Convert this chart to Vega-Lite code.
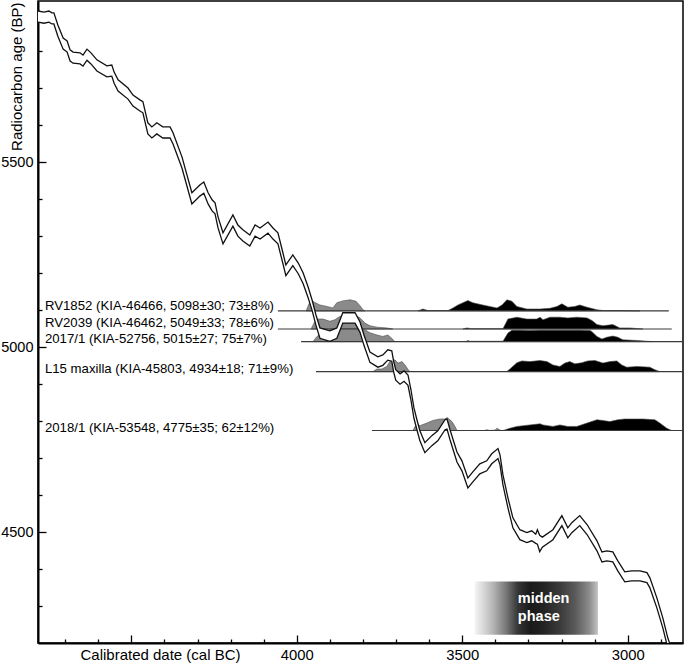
{
  "$schema": "https://vega.github.io/schema/vega-lite/v6.json",
  "width": 645,
  "height": 642,
  "autosize": {"type": "none"},
  "padding": {"left": 38, "top": 1, "right": 2, "bottom": 21},
  "background": "white",
  "config": {
    "view": {"stroke": "black", "strokeWidth": 1.5},
    "font": "Liberation Sans"
  },
  "datasets": {
    "curve": [
      {"cal":4782,"up":5908,"lo":5878},{"cal":4764,"up":5905,"lo":5875},{"cal":4749,"up":5908,"lo":5878},{"cal":4740,"up":5903,"lo":5873},{"cal":4734,"up":5903,"lo":5873},
      {"cal":4722,"up":5870,"lo":5840},{"cal":4706,"up":5835,"lo":5805},{"cal":4694,"up":5827,"lo":5797},{"cal":4685,"up":5803,"lo":5773},{"cal":4676,"up":5797,"lo":5767},
      {"cal":4655,"up":5795,"lo":5765},{"cal":4646,"up":5789,"lo":5759},{"cal":4634,"up":5805,"lo":5775},{"cal":4622,"up":5795,"lo":5765},{"cal":4604,"up":5776,"lo":5746},
      {"cal":4574,"up":5760,"lo":5730},{"cal":4559,"up":5762,"lo":5732},{"cal":4552,"up":5743,"lo":5713},{"cal":4540,"up":5722,"lo":5692},{"cal":4510,"up":5700,"lo":5670},
      {"cal":4495,"up":5681,"lo":5651},{"cal":4474,"up":5668,"lo":5638},{"cal":4465,"up":5663,"lo":5633},{"cal":4450,"up":5606,"lo":5576},{"cal":4438,"up":5595,"lo":5565},
      {"cal":4423,"up":5606,"lo":5576},{"cal":4405,"up":5595,"lo":5565},{"cal":4383,"up":5595,"lo":5565},{"cal":4374,"up":5579,"lo":5549},{"cal":4347,"up":5514,"lo":5484},
      {"cal":4317,"up":5417,"lo":5387},{"cal":4293,"up":5438,"lo":5408},{"cal":4281,"up":5446,"lo":5416},{"cal":4268,"up":5417,"lo":5387},{"cal":4256,"up":5398,"lo":5368},
      {"cal":4247,"up":5390,"lo":5360},{"cal":4238,"up":5352,"lo":5322},{"cal":4223,"up":5309,"lo":5279},{"cal":4193,"up":5357,"lo":5327},{"cal":4178,"up":5330,"lo":5300},
      {"cal":4163,"up":5317,"lo":5287},{"cal":4142,"up":5303,"lo":5273},{"cal":4126,"up":5330,"lo":5300},{"cal":4111,"up":5322,"lo":5292},{"cal":4087,"up":5338,"lo":5308},
      {"cal":4072,"up":5322,"lo":5292},{"cal":4057,"up":5309,"lo":5279},{"cal":4042,"up":5255,"lo":5226},{"cal":4033,"up":5222,"lo":5193},{"cal":4012,"up":5249,"lo":5220},
      {"cal":3996,"up":5228,"lo":5199},{"cal":3981,"up":5201,"lo":5172},{"cal":3966,"up":5163,"lo":5134},{"cal":3954,"up":5128,"lo":5100},{"cal":3942,"up":5087,"lo":5059},
      {"cal":3930,"up":5052,"lo":5024},{"cal":3900,"up":5044,"lo":5016},{"cal":3879,"up":5052,"lo":5024},{"cal":3861,"up":5093,"lo":5065},{"cal":3824,"up":5093,"lo":5065},
      {"cal":3809,"up":5068,"lo":5040},{"cal":3797,"up":5033,"lo":5005},{"cal":3779,"up":4987,"lo":4959},{"cal":3755,"up":4974,"lo":4946},{"cal":3740,"up":4979,"lo":4951},
      {"cal":3725,"up":4993,"lo":4965},{"cal":3713,"up":4990,"lo":4962},{"cal":3707,"up":4960,"lo":4932},{"cal":3701,"up":4939,"lo":4911},{"cal":3688,"up":4928,"lo":4900},
      {"cal":3676,"up":4936,"lo":4908},{"cal":3664,"up":4925,"lo":4897},{"cal":3655,"up":4885,"lo":4857},{"cal":3646,"up":4836,"lo":4808},{"cal":3637,"up":4804,"lo":4777},
      {"cal":3628,"up":4774,"lo":4747},{"cal":3613,"up":4742,"lo":4715},{"cal":3592,"up":4761,"lo":4734},{"cal":3574,"up":4774,"lo":4747},{"cal":3552,"up":4804,"lo":4777},
      {"cal":3546,"up":4806,"lo":4779},{"cal":3537,"up":4777,"lo":4750},{"cal":3516,"up":4717,"lo":4690},{"cal":3501,"up":4693,"lo":4666},{"cal":3483,"up":4647,"lo":4620},
      {"cal":3468,"up":4663,"lo":4636},{"cal":3447,"up":4685,"lo":4658},{"cal":3426,"up":4693,"lo":4666},{"cal":3411,"up":4712,"lo":4685},{"cal":3392,"up":4726,"lo":4699},
      {"cal":3386,"up":4709,"lo":4682},{"cal":3377,"up":4655,"lo":4628},{"cal":3362,"up":4593,"lo":4566},{"cal":3347,"up":4539,"lo":4512},{"cal":3326,"up":4507,"lo":4480},
      {"cal":3305,"up":4499,"lo":4472},{"cal":3290,"up":4504,"lo":4477},{"cal":3278,"up":4495,"lo":4470},{"cal":3273,"up":4507,"lo":4468},{"cal":3266,"up":4492,"lo":4448},
      {"cal":3258,"up":4487,"lo":4460},{"cal":3226,"up":4507,"lo":4480},{"cal":3199,"up":4545,"lo":4518},{"cal":3181,"up":4512,"lo":4485},{"cal":3169,"up":4526,"lo":4499},
      {"cal":3145,"up":4545,"lo":4518},{"cal":3123,"up":4521,"lo":4494},{"cal":3093,"up":4477,"lo":4450},{"cal":3078,"up":4447,"lo":4420},{"cal":3063,"up":4450,"lo":4423},
      {"cal":3045,"up":4447,"lo":4420},{"cal":3030,"up":4423,"lo":4396},{"cal":3009,"up":4393,"lo":4366},{"cal":2988,"up":4396,"lo":4369},{"cal":2963,"up":4396,"lo":4369},
      {"cal":2942,"up":4391,"lo":4364},{"cal":2933,"up":4377,"lo":4350},{"cal":2912,"up":4323,"lo":4296},{"cal":2894,"up":4269,"lo":4242},{"cal":2879,"up":4215,"lo":4188},
      {"cal":2867,"up":4183,"lo":4156}
    ],
    "dist": [
      {"g":"Ag","p":"g","cal":3972,"top":5098,"base":5098},{"g":"Ag","p":"g","cal":3963,"top":5117,"base":5098},{"g":"Ag","p":"g","cal":3957,"top":5128,"base":5098},{"g":"Ag","p":"g","cal":3948,"top":5122,"base":5098},{"g":"Ag","p":"g","cal":3930,"top":5114,"base":5098},{"g":"Ag","p":"g","cal":3909,"top":5110,"base":5098},{"g":"Ag","p":"g","cal":3891,"top":5106,"base":5098},{"g":"Ag","p":"g","cal":3879,"top":5120,"base":5098},{"g":"Ag","p":"g","cal":3861,"top":5125,"base":5098},{"g":"Ag","p":"g","cal":3839,"top":5128,"base":5098},{"g":"Ag","p":"g","cal":3821,"top":5124,"base":5098},{"g":"Ag","p":"g","cal":3809,"top":5112,"base":5098},{"g":"Ag","p":"g","cal":3800,"top":5101,"base":5098},{"g":"Ag","p":"g","cal":3794,"top":5098,"base":5098},
      {"g":"Ab","p":"b","cal":3634,"top":5098,"base":5098},{"g":"Ab","p":"b","cal":3619,"top":5103,"base":5098},{"g":"Ab","p":"b","cal":3604,"top":5099,"base":5098},{"g":"Ab","p":"b","cal":3543,"top":5099,"base":5098},{"g":"Ab","p":"b","cal":3528,"top":5106,"base":5098},{"g":"Ab","p":"b","cal":3513,"top":5114,"base":5098},{"g":"Ab","p":"b","cal":3498,"top":5120,"base":5098},{"g":"Ab","p":"b","cal":3483,"top":5126,"base":5098},{"g":"Ab","p":"b","cal":3468,"top":5120,"base":5098},{"g":"Ab","p":"b","cal":3438,"top":5114,"base":5098},{"g":"Ab","p":"b","cal":3417,"top":5110,"base":5098},{"g":"Ab","p":"b","cal":3395,"top":5106,"base":5098},{"g":"Ab","p":"b","cal":3380,"top":5114,"base":5098},{"g":"Ab","p":"b","cal":3365,"top":5128,"base":5098},{"g":"Ab","p":"b","cal":3350,"top":5124,"base":5098},{"g":"Ab","p":"b","cal":3335,"top":5110,"base":5098},{"g":"Ab","p":"b","cal":3305,"top":5103,"base":5098},{"g":"Ab","p":"b","cal":3265,"top":5103,"base":5098},{"g":"Ab","p":"b","cal":3235,"top":5105,"base":5098},{"g":"Ab","p":"b","cal":3214,"top":5110,"base":5098},{"g":"Ab","p":"b","cal":3199,"top":5117,"base":5098},{"g":"Ab","p":"b","cal":3181,"top":5108,"base":5098},{"g":"Ab","p":"b","cal":3160,"top":5110,"base":5098},{"g":"Ab","p":"b","cal":3145,"top":5114,"base":5098},{"g":"Ab","p":"b","cal":3123,"top":5108,"base":5098},{"g":"Ab","p":"b","cal":3093,"top":5101,"base":5098},{"g":"Ab","p":"b","cal":3075,"top":5099,"base":5098},{"g":"Ab","p":"b","cal":3024,"top":5099,"base":5098},{"g":"Ab","p":"b","cal":2963,"top":5098,"base":5098},
      {"g":"Bg","p":"g","cal":3957,"top":5049,"base":5049},{"g":"Bg","p":"g","cal":3945,"top":5070,"base":5049},{"g":"Bg","p":"g","cal":3936,"top":5076,"base":5049},{"g":"Bg","p":"g","cal":3921,"top":5076,"base":5049},{"g":"Bg","p":"g","cal":3900,"top":5070,"base":5049},{"g":"Bg","p":"g","cal":3885,"top":5074,"base":5049},{"g":"Bg","p":"g","cal":3870,"top":5083,"base":5049},{"g":"Bg","p":"g","cal":3855,"top":5087,"base":5049},{"g":"Bg","p":"g","cal":3839,"top":5089,"base":5049},{"g":"Bg","p":"g","cal":3824,"top":5087,"base":5049},{"g":"Bg","p":"g","cal":3809,"top":5079,"base":5049},{"g":"Bg","p":"g","cal":3794,"top":5065,"base":5049},{"g":"Bg","p":"g","cal":3779,"top":5058,"base":5049},{"g":"Bg","p":"g","cal":3758,"top":5054,"base":5049},{"g":"Bg","p":"g","cal":3728,"top":5052,"base":5049},{"g":"Bg","p":"g","cal":3710,"top":5049,"base":5049},
      {"g":"Bb","p":"b","cal":3498,"top":5049,"base":5049},{"g":"Bb","p":"b","cal":3486,"top":5052,"base":5049},{"g":"Bb","p":"b","cal":3474,"top":5050,"base":5049},{"g":"Bb","p":"b","cal":3390,"top":5050,"base":5049},{"g":"Bb","p":"b","cal":3377,"top":5050,"base":5049},{"g":"Bb","p":"b","cal":3362,"top":5076,"base":5049},{"g":"Bb","p":"b","cal":3335,"top":5081,"base":5049},{"g":"Bb","p":"b","cal":3305,"top":5076,"base":5049},{"g":"Bb","p":"b","cal":3275,"top":5076,"base":5049},{"g":"Bb","p":"b","cal":3265,"top":5081,"base":5049},{"g":"Bb","p":"b","cal":3256,"top":5074,"base":5049},{"g":"Bb","p":"b","cal":3235,"top":5081,"base":5049},{"g":"Bb","p":"b","cal":3205,"top":5081,"base":5049},{"g":"Bb","p":"b","cal":3181,"top":5079,"base":5049},{"g":"Bb","p":"b","cal":3154,"top":5081,"base":5049},{"g":"Bb","p":"b","cal":3123,"top":5079,"base":5049},{"g":"Bb","p":"b","cal":3108,"top":5072,"base":5049},{"g":"Bb","p":"b","cal":3093,"top":5061,"base":5049},{"g":"Bb","p":"b","cal":3075,"top":5058,"base":5049},{"g":"Bb","p":"b","cal":3045,"top":5061,"base":5049},{"g":"Bb","p":"b","cal":3024,"top":5052,"base":5049},{"g":"Bb","p":"b","cal":2994,"top":5052,"base":5049},{"g":"Bb","p":"b","cal":2954,"top":5049,"base":5049},
      {"g":"Cg","p":"g","cal":3951,"top":5015,"base":5015},{"g":"Cg","p":"g","cal":3939,"top":5029,"base":5015},{"g":"Cg","p":"g","cal":3924,"top":5038,"base":5015},{"g":"Cg","p":"g","cal":3909,"top":5042,"base":5015},{"g":"Cg","p":"g","cal":3900,"top":5047,"base":5015},{"g":"Cg","p":"g","cal":3885,"top":5049,"base":5015},{"g":"Cg","p":"g","cal":3855,"top":5050,"base":5015},{"g":"Cg","p":"g","cal":3824,"top":5050,"base":5015},{"g":"Cg","p":"g","cal":3794,"top":5047,"base":5015},{"g":"Cg","p":"g","cal":3779,"top":5039,"base":5015},{"g":"Cg","p":"g","cal":3758,"top":5033,"base":5015},{"g":"Cg","p":"g","cal":3740,"top":5029,"base":5015},{"g":"Cg","p":"g","cal":3725,"top":5033,"base":5015},{"g":"Cg","p":"g","cal":3713,"top":5024,"base":5015},{"g":"Cg","p":"g","cal":3704,"top":5015,"base":5015},
      {"g":"Cb","p":"b","cal":3489,"top":5015,"base":5015},{"g":"Cb","p":"b","cal":3483,"top":5018,"base":5015},{"g":"Cb","p":"b","cal":3477,"top":5016,"base":5015},{"g":"Cb","p":"b","cal":3377,"top":5016,"base":5015},{"g":"Cb","p":"b","cal":3362,"top":5038,"base":5015},{"g":"Cb","p":"b","cal":3350,"top":5046,"base":5015},{"g":"Cb","p":"b","cal":3326,"top":5046,"base":5015},{"g":"Cb","p":"b","cal":3296,"top":5045,"base":5015},{"g":"Cb","p":"b","cal":3265,"top":5046,"base":5015},{"g":"Cb","p":"b","cal":3205,"top":5046,"base":5015},{"g":"Cb","p":"b","cal":3145,"top":5046,"base":5015},{"g":"Cb","p":"b","cal":3114,"top":5045,"base":5015},{"g":"Cb","p":"b","cal":3108,"top":5042,"base":5015},{"g":"Cb","p":"b","cal":3093,"top":5029,"base":5015},{"g":"Cb","p":"b","cal":3078,"top":5022,"base":5015},{"g":"Cb","p":"b","cal":3063,"top":5027,"base":5015},{"g":"Cb","p":"b","cal":3045,"top":5030,"base":5015},{"g":"Cb","p":"b","cal":3030,"top":5027,"base":5015},{"g":"Cb","p":"b","cal":3015,"top":5020,"base":5015},{"g":"Cb","p":"b","cal":2972,"top":5018,"base":5015},{"g":"Cb","p":"b","cal":2924,"top":5015,"base":5015},
      {"g":"Dg","p":"g","cal":3770,"top":4934,"base":4934},{"g":"Dg","p":"g","cal":3758,"top":4941,"base":4934},{"g":"Dg","p":"g","cal":3743,"top":4941,"base":4934},{"g":"Dg","p":"g","cal":3728,"top":4948,"base":4934},{"g":"Dg","p":"g","cal":3719,"top":4961,"base":4934},{"g":"Dg","p":"g","cal":3704,"top":4966,"base":4934},{"g":"Dg","p":"g","cal":3694,"top":4957,"base":4934},{"g":"Dg","p":"g","cal":3682,"top":4961,"base":4934},{"g":"Dg","p":"g","cal":3673,"top":4952,"base":4934},{"g":"Dg","p":"g","cal":3664,"top":4940,"base":4934},{"g":"Dg","p":"g","cal":3658,"top":4934,"base":4934},
      {"g":"Db","p":"b","cal":3365,"top":4934,"base":4934},{"g":"Db","p":"b","cal":3350,"top":4946,"base":4934},{"g":"Db","p":"b","cal":3335,"top":4958,"base":4934},{"g":"Db","p":"b","cal":3320,"top":4963,"base":4934},{"g":"Db","p":"b","cal":3296,"top":4961,"base":4934},{"g":"Db","p":"b","cal":3265,"top":4964,"base":4934},{"g":"Db","p":"b","cal":3244,"top":4961,"base":4934},{"g":"Db","p":"b","cal":3226,"top":4952,"base":4934},{"g":"Db","p":"b","cal":3205,"top":4948,"base":4934},{"g":"Db","p":"b","cal":3190,"top":4957,"base":4934},{"g":"Db","p":"b","cal":3175,"top":4961,"base":4934},{"g":"Db","p":"b","cal":3160,"top":4955,"base":4934},{"g":"Db","p":"b","cal":3139,"top":4958,"base":4934},{"g":"Db","p":"b","cal":3121,"top":4963,"base":4934},{"g":"Db","p":"b","cal":3099,"top":4964,"base":4934},{"g":"Db","p":"b","cal":3075,"top":4957,"base":4934},{"g":"Db","p":"b","cal":3054,"top":4961,"base":4934},{"g":"Db","p":"b","cal":3033,"top":4963,"base":4934},{"g":"Db","p":"b","cal":3018,"top":4952,"base":4934},{"g":"Db","p":"b","cal":3003,"top":4946,"base":4934},{"g":"Db","p":"b","cal":2972,"top":4948,"base":4934},{"g":"Db","p":"b","cal":2933,"top":4946,"base":4934},{"g":"Db","p":"b","cal":2918,"top":4939,"base":4934},{"g":"Db","p":"b","cal":2903,"top":4934,"base":4934},
      {"g":"Eg","p":"g","cal":3649,"top":4775,"base":4775},{"g":"Eg","p":"g","cal":3637,"top":4795,"base":4775},{"g":"Eg","p":"g","cal":3628,"top":4788,"base":4775},{"g":"Eg","p":"g","cal":3607,"top":4795,"base":4775},{"g":"Eg","p":"g","cal":3589,"top":4802,"base":4775},{"g":"Eg","p":"g","cal":3568,"top":4806,"base":4775},{"g":"Eg","p":"g","cal":3553,"top":4806,"base":4775},{"g":"Eg","p":"g","cal":3546,"top":4810,"base":4775},{"g":"Eg","p":"g","cal":3540,"top":4806,"base":4775},{"g":"Eg","p":"g","cal":3531,"top":4799,"base":4775},{"g":"Eg","p":"g","cal":3522,"top":4786,"base":4775},{"g":"Eg","p":"g","cal":3516,"top":4775,"base":4775},
      {"g":"Eg2","p":"g","cal":3432,"top":4775,"base":4775},{"g":"Eg2","p":"g","cal":3426,"top":4777,"base":4775},{"g":"Eg2","p":"g","cal":3417,"top":4775,"base":4775},{"g":"Eg2","p":"g","cal":3401,"top":4776,"base":4775},{"g":"Eg2","p":"g","cal":3395,"top":4781,"base":4775},{"g":"Eg2","p":"g","cal":3386,"top":4776,"base":4775},{"g":"Eg2","p":"g","cal":3380,"top":4775,"base":4775},
      {"g":"Eb","p":"b","cal":3377,"top":4775,"base":4775},{"g":"Eb","p":"b","cal":3356,"top":4781,"base":4775},{"g":"Eb","p":"b","cal":3335,"top":4786,"base":4775},{"g":"Eb","p":"b","cal":3296,"top":4790,"base":4775},{"g":"Eb","p":"b","cal":3265,"top":4793,"base":4775},{"g":"Eb","p":"b","cal":3256,"top":4790,"base":4775},{"g":"Eb","p":"b","cal":3226,"top":4786,"base":4775},{"g":"Eb","p":"b","cal":3205,"top":4790,"base":4775},{"g":"Eb","p":"b","cal":3181,"top":4786,"base":4775},{"g":"Eb","p":"b","cal":3154,"top":4786,"base":4775},{"g":"Eb","p":"b","cal":3123,"top":4795,"base":4775},{"g":"Eb","p":"b","cal":3093,"top":4804,"base":4775},{"g":"Eb","p":"b","cal":3075,"top":4802,"base":4775},{"g":"Eb","p":"b","cal":3054,"top":4799,"base":4775},{"g":"Eb","p":"b","cal":3030,"top":4804,"base":4775},{"g":"Eb","p":"b","cal":3009,"top":4806,"base":4775},{"g":"Eb","p":"b","cal":2954,"top":4806,"base":4775},{"g":"Eb","p":"b","cal":2918,"top":4804,"base":4775},{"g":"Eb","p":"b","cal":2903,"top":4795,"base":4775},{"g":"Eb","p":"b","cal":2882,"top":4781,"base":4775},{"g":"Eb","p":"b","cal":2867,"top":4775,"base":4775}
    ],
    "samples": [
      {"label":"RV1852 (KIA-46466, 5098±30; 73±8%)","age":5098,"start":4057,"end":2876},
      {"label":"RV2039 (KIA-46462, 5049±33; 78±6%)","age":5049,"start":4057,"end":2867},
      {"label":"2017/1 (KIA-52756, 5015±27; 75±7%)","age":5015,"start":3987,"end":2825},
      {"label":"L15 maxilla (KIA-45803, 4934±18; 71±9%)","age":4934,"start":3942,"end":2825},
      {"label":"2018/1 (KIA-53548, 4775±35; 62±12%)","age":4775,"start":3773,"end":2825}
    ],
    "midden": [{"from":3462,"to":3090,"hi":4367,"lo":4223,"label":"midden\nphase"}]
  },
  "encoding": {
    "x": {
      "type": "quantitative",
      "scale": {"domain": [2833, 4782], "reverse": true, "nice": false, "zero": false},
      "axis": {
        "values": [4700, 4600, 4500, 4400, 4300, 4200, 4100, 4000, 3900, 3800, 3700, 3600, 3500, 3400, 3300, 3200, 3100, 3000, 2900],
        "labelExpr": "datum.value % 500 === 0 && datum.value !== 4500 ? datum.value : ''",
        "tickSize": {"condition": {"test": "datum.value % 500 === 0", "value": -8}, "value": -4},
        "tickColor": "black", "tickWidth": 1.3,
        "labelPadding": 12, "labelFontSize": 14.8, "labelFont": "Liberation Sans", "labelColor": "black",
        "labelOverlap": false, "labelFlush": false,
        "domainColor": "black", "domainWidth": 2, "grid": false,
        "titleFont": "Liberation Sans", "titleFontSize": 15,
        "titleFontWeight": "normal", "titleColor": "black",
        "titleAnchor": null, "titleX": 122, "titleY": 16, "titleAlign": "center", "titleBaseline": "alphabetic", "titleAngle": 0
      },
      "title": "Calibrated date (cal BC)"
    },
    "y": {
      "type": "quantitative",
      "scale": {"domain": [4201, 5935], "nice": false, "zero": false},
      "axis": {
        "values": [4300, 4400, 4500, 4600, 4700, 4800, 4900, 5000, 5100, 5200, 5300, 5400, 5500, 5600, 5700, 5800, 5900],
        "labelExpr": "datum.value % 500 === 0 ? datum.value : ''",
        "tickSize": {"condition": {"test": "datum.value % 500 === 0", "value": -8}, "value": -4},
        "tickColor": "black", "tickWidth": 1.3,
        "labelPadding": 13, "labelFontSize": 14.5, "labelFont": "Liberation Sans", "labelColor": "black",
        "labelOverlap": false, "labelFlush": false,
        "domainColor": "black", "domainWidth": 2, "grid": false,
        "titleFont": "Liberation Sans", "titleFontSize": 15,
        "titleFontWeight": "normal", "titleColor": "black",
        "titleAnchor": null, "titleX": -22, "titleY": 1, "titleAlign": "right", "titleBaseline": "middle", "titleAngle": 270
      },
      "title": "Radiocarbon age (BP)"
    }
  },
  "layer": [
    {
      "data": {"name": "midden"},
      "mark": {
        "type": "rect",
        "color": {
          "gradient": "linear", "x1": 0, "y1": 0, "x2": 1, "y2": 0,
          "stops": [
            {"offset": 0, "color": "#f4f4f4"},
            {"offset": 0.06, "color": "#dcdcdc"},
            {"offset": 0.15, "color": "#b4b4b4"},
            {"offset": 0.25, "color": "#7a7a7a"},
            {"offset": 0.35, "color": "#353535"},
            {"offset": 0.45, "color": "#1a1a1a"},
            {"offset": 0.55, "color": "#222222"},
            {"offset": 0.7, "color": "#3c3c3c"},
            {"offset": 0.82, "color": "#5c5c5c"},
            {"offset": 0.93, "color": "#8c8c8c"},
            {"offset": 1, "color": "#c4c4c4"}
          ]
        }
      },
      "encoding": {
        "x": {"field": "from"},
        "x2": {"field": "to"},
        "y": {"field": "hi"},
        "y2": {"field": "lo"}
      }
    },
    {
      "data": {"name": "dist"},
      "mark": {"type": "area", "stroke": "#4a4a4a", "strokeWidth": 0.6, "clip": true},
      "encoding": {
        "x": {"field": "cal"},
        "y": {"field": "top"},
        "y2": {"field": "base"},
        "color": {"field": "p", "type": "nominal", "scale": {"domain": ["g", "b"], "range": ["#8a8a8a", "#000000"]}, "legend": null},
        "detail": {"field": "g"}
      }
    },
    {
      "data": {"name": "samples"},
      "mark": {"type": "rule", "stroke": "#3a3a3a", "strokeWidth": 1.1, "clip": true},
      "encoding": {
        "x": {"field": "start"},
        "x2": {"field": "end"},
        "y": {"field": "age"}
      }
    },
    {
      "data": {"name": "samples"},
      "mark": {"type": "text", "align": "left", "baseline": "alphabetic", "fontSize": 13.2, "font": "Liberation Sans", "color": "black",
        "dy": {"expr": "datum.age == 5049 ? -2.5 : (datum.age == 5098 ? -1 : (datum.age == 5015 ? 1.5 : 1.3))"}},
      "encoding": {
        "x": {"datum": 4761},
        "y": {"field": "age"},
        "text": {"field": "label"}
      }
    },
    {
      "data": {"name": "curve"},
      "mark": {"type": "area", "color": "white", "clip": true},
      "encoding": {
        "x": {"field": "cal"},
        "y": {"field": "up"},
        "y2": {"field": "lo"}
      }
    },
    {
      "data": {"name": "curve"},
      "mark": {"type": "line", "color": "#111111", "strokeWidth": 1.3, "clip": true},
      "encoding": {
        "x": {"field": "cal"},
        "y": {"field": "up"}
      }
    },
    {
      "data": {"name": "curve"},
      "mark": {"type": "line", "color": "#111111", "strokeWidth": 1.3, "clip": true},
      "encoding": {
        "x": {"field": "cal"},
        "y": {"field": "lo"}
      }
    },
    {
      "data": {"name": "midden"},
      "mark": {"type": "text", "align": "left", "baseline": "alphabetic", "fontSize": 14.5, "fontWeight": "bold", "font": "Liberation Sans", "color": "white", "lineBreak": "\n", "lineHeight": 17.7},
      "encoding": {
        "x": {"datum": 3332},
        "y": {"datum": 4309},
        "text": {"field": "label"}
      }
    }
  ]
}
